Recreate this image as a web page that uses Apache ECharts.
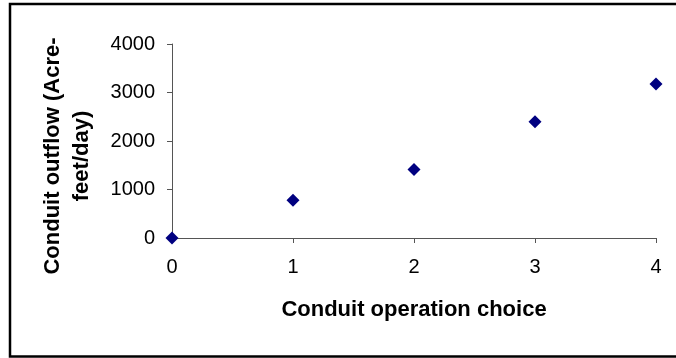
<!DOCTYPE html>
<html>
<head>
<meta charset="utf-8">
<script src="https://cdn.jsdelivr.net/npm/echarts@6/dist/echarts.min.js"></script>
<style>
  html, body { margin: 0; padding: 0; background: #fff; }
  #chart { width: 676px; height: 358px; }
</style>
</head>
<body>
<div id="chart"></div>
<script>
// Conduit outflow for each conduit operation choice
const choices = [0, 1, 2, 3, 4];
const outflow = [0, 780, 1410, 2395, 3175];
const yTicks = [0, 1000, 2000, 3000, 4000];
const xTitle = 'Conduit operation choice';
const yTitle = 'Conduit outflow (Acre-\nfeet/day)';

const FONT = '"Liberation Sans", Arial, sans-serif';
const AXIS_COLOR = '#555';

const chart = echarts.init(document.getElementById('chart'), null, { renderer: 'canvas' });

chart.setOption({
  animation: false,
  backgroundColor: '#fff',
  grid: { left: 172, right: 20, top: 44, bottom: 120, containLabel: false },
  xAxis: {
    type: 'value',
    min: choices[0],
    max: choices[choices.length - 1],
    interval: 1,
    name: xTitle,
    nameLocation: 'middle',
    nameGap: 61,
    nameTextStyle: { fontFamily: FONT, fontWeight: 'bold', fontSize: 22, color: '#000' },
    axisLine: { show: true, onZero: false, lineStyle: { color: AXIS_COLOR, width: 1 } },
    axisTick: { show: true, inside: false, length: 5, lineStyle: { color: AXIS_COLOR } },
    axisLabel: { fontFamily: FONT, fontSize: 20, color: '#000', margin: 19 },
    splitLine: { show: false }
  },
  yAxis: {
    type: 'value',
    min: yTicks[0],
    max: yTicks[yTicks.length - 1],
    interval: yTicks[1] - yTicks[0],
    axisLine: { show: true, lineStyle: { color: AXIS_COLOR, width: 1 } },
    axisTick: { show: true, inside: false, length: 5, lineStyle: { color: AXIS_COLOR } },
    axisLabel: { fontFamily: FONT, fontSize: 20, color: '#000', margin: 17, formatter: v => String(v) },
    splitLine: { show: false }
  },
  graphic: [
    {
      type: 'rect',
      silent: true,
      shape: { x: 10, y: 4, width: 700, height: 352.5 },
      style: { fill: 'none', stroke: '#000', lineWidth: 2.5 }
    },
    {
      type: 'text',
      silent: true,
      x: 67,
      y: 156,
      rotation: Math.PI / 2,
      style: {
        text: yTitle,
        font: 'bold 22px ' + FONT,
        fill: '#000',
        align: 'center',
        verticalAlign: 'middle',
        lineHeight: 29
      }
    }
  ],
  series: [{
    type: 'scatter',
    symbol: 'diamond',
    symbolSize: 13,
    itemStyle: { color: '#000080', opacity: 1 },
    data: choices.map((c, i) => [c, outflow[i]])
  }]
});
</script>
</body>
</html>
